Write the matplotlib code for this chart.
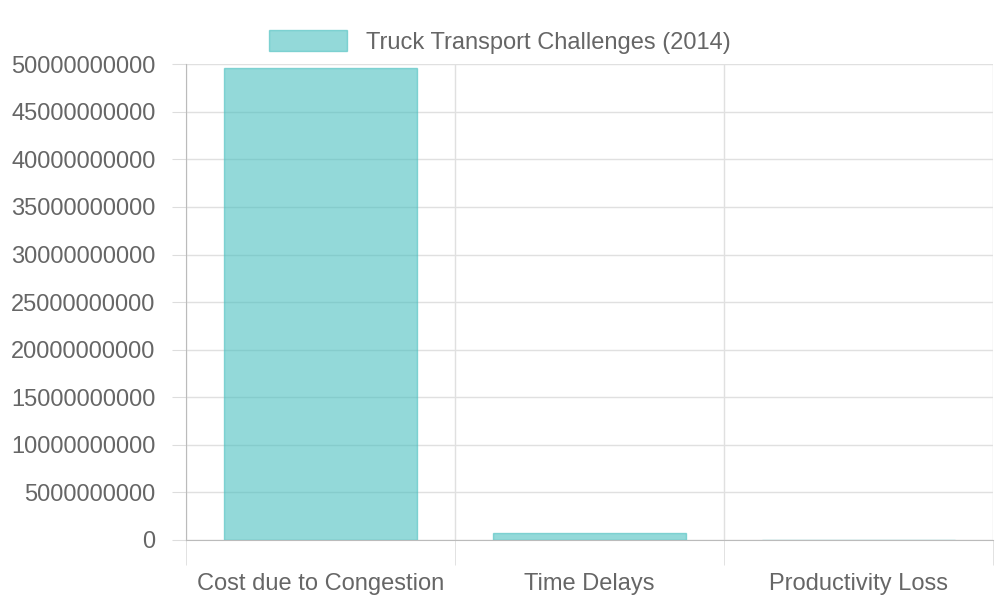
import matplotlib
matplotlib.use("Agg")
import matplotlib.pyplot as plt
import numpy as np

categories = ["Cost due to Congestion", "Time Delays", "Productivity Loss"]
values = [49.6e9, 0.74e9, 0.01e9]
label = "Truck Transport Challenges (2014)"

plt.rcParams['font.family'] = ['Liberation Sans', 'DejaVu Sans']
fig = plt.figure(figsize=(10, 6), dpi=100)
ax = fig.add_axes([0.186, 0.10, 0.807, 0.793])
x = np.arange(len(categories))
ax.bar(x, values, width=0.72, color=(75/255, 192/255, 192/255, 0.6),
       edgecolor=(75/255, 192/255, 192/255, 0.6), linewidth=1, label=label)
ax.set_xlim(-0.5, len(categories) - 0.5)
ax.set_ylim(0, 50e9)
ax.set_yticks(np.arange(0, 50e9 + 1, 5e9))
ax.set_yticklabels([str(int(v)) for v in np.arange(0, 50e9 + 1, 5e9)])
ax.set_xticks(x)
ax.set_xticklabels(categories)
ax.set_xticks(np.arange(-0.5, len(categories)), minor=True)
ax.grid(axis='y', color='#e0e0e0', linewidth=1)
ax.grid(axis='x', which='minor', color='#e0e0e0', linewidth=1)
ax.set_axisbelow(True)
for s in ['top', 'right']:
    ax.spines[s].set_visible(False)
ax.spines['left'].set_color('#bbbbbb')
ax.spines['bottom'].set_color('#bbbbbb')
ax.tick_params(axis='x', which='major', length=0, pad=24, labelsize=17, labelcolor='#666666')
ax.tick_params(axis='x', which='minor', length=18, color='#dddddd')
ax.tick_params(axis='y', length=10, color='#dddddd', labelsize=17, labelcolor='#666666', pad=12)
leg = fig.legend(loc='upper center', bbox_to_anchor=(0.5, 0.985), frameon=False,
                 fontsize=17, handlelength=3.3, handleheight=1.0, labelcolor='#666666')
fig.savefig("out.png", dpi=100)
